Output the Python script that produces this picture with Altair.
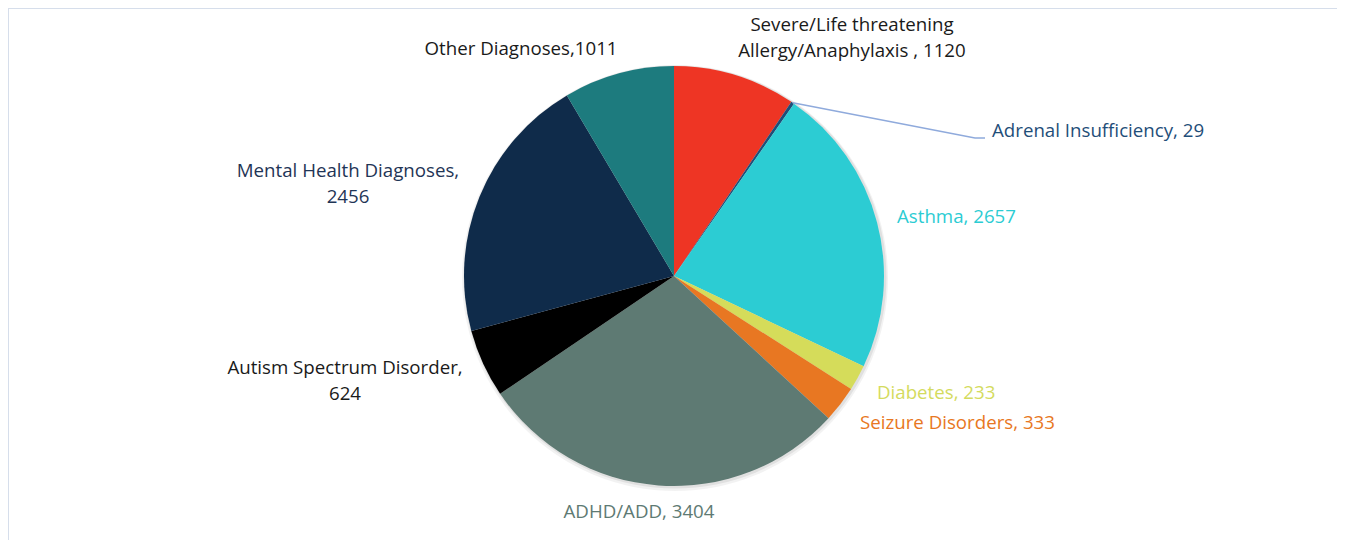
import math
import pandas as pd
import altair as alt

# ---- data ----
categories = [
    "Severe/Life threatening Allergy/Anaphylaxis",
    "Adrenal Insufficiency",
    "Asthma",
    "Diabetes",
    "Seizure Disorders",
    "ADHD/ADD",
    "Autism Spectrum Disorder",
    "Mental Health Diagnoses",
    "Other Diagnoses",
]
values = [1120, 29, 2657, 233, 333, 3404, 624, 2456, 1011]
slice_colors = ["#EE3524", "#1F4E79", "#2CCCD3", "#D5DC5A", "#E87722",
                "#5E7A73", "#000000", "#0F2B4A", "#1D7B7E"]
label_texts = [
    "Severe/Life threatening\nAllergy/Anaphylaxis , 1120",
    "Adrenal Insufficiency, 29",
    "Asthma, 2657",
    "Diabetes, 233",
    "Seizure Disorders, 333",
    "ADHD/ADD, 3404",
    "Autism Spectrum Disorder,\n624",
    "Mental Health Diagnoses,\n2456",
    "Other Diagnoses,1011",
]
label_colors = ["#1A1A1A", "#1F4E79", "#2CCCD3", "#D4DB5E", "#E87722",
                "#5E7A73", "#1A1A1A", "#1F3556", "#1A1A1A"]

# ---- layout (annotation positions, pixels; y = first line) ----
W, H = 1329, 532
CX, CY, R = 666, 268, 210
label_align = ["center", "left", "left", "left", "left",
               "center", "center", "center", "center"]
label_x = [844, 984, 889, 869, 852, 631, 337, 340, 513]
label_y = [17, 123, 209, 385, 415, 504, 360, 163, 41]

df = pd.DataFrame({"category": categories, "value": values,
                   "order": list(range(len(values)))})

lab = pd.DataFrame({"text": label_texts, "tc": label_colors,
                    "align": label_align, "x": label_x, "y": label_y})

# leader line for the tiny Adrenal slice, starting at its mid-angle edge
total = sum(values)
mid = (values[0] + values[1] / 2) / total * 2 * math.pi
sx = CX + R * math.sin(mid)
sy = CY - R * math.cos(mid)
leader = pd.DataFrame({"i": [0, 1, 2],
                       "x": [sx, 967, 977],
                       "y": [sy, 130, 130]})

shadow1 = alt.Chart(df.head(1)).mark_arc(
    theta=0, theta2=2 * math.pi, radius=R + 3, color="#000000", opacity=0.05
).encode(x=alt.value(CX + 1), y=alt.value(CY + 2))
shadow2 = alt.Chart(df.head(1)).mark_arc(
    theta=0, theta2=2 * math.pi, radius=R + 1.5, color="#000000", opacity=0.07
).encode(x=alt.value(CX + 1), y=alt.value(CY + 1))

pie = alt.Chart(df).mark_arc(radius=R).encode(
    theta=alt.Theta("value:Q", stack=True),
    color=alt.Color("category:N",
                    scale=alt.Scale(domain=categories, range=slice_colors),
                    legend=None),
    order=alt.Order("order:Q"),
    x=alt.value(CX),
    y=alt.value(CY),
)

line = alt.Chart(leader).mark_line(color="#8FAADC", strokeWidth=1.5).encode(
    x=alt.X("x:Q", scale=None),
    y=alt.Y("y:Q", scale=None),
    order="i:Q",
)

def text_layer(al):
    return alt.Chart(lab[lab["align"] == al]).mark_text(
        align=al, baseline="middle", font="Open Sans", fontSize=18.7,
        lineBreak="\n", lineHeight=26
    ).encode(
        x=alt.X("x:Q", scale=None),
        y=alt.Y("y:Q", scale=None),
        text="text:N",
        color=alt.Color("tc:N", scale=None),
    )

border_top = alt.Chart(df.head(1)).mark_rule(color="#D6DEEB", strokeWidth=2).encode(
    x=alt.value(0), x2=alt.value(W), y=alt.value(0))
border_left = alt.Chart(df.head(1)).mark_rule(color="#D6DEEB", strokeWidth=2).encode(
    x=alt.value(0), y=alt.value(0), y2=alt.value(H))

chart = alt.layer(
    border_top, border_left, shadow1, shadow2, pie, line,
    text_layer("center"), text_layer("left")
).resolve_scale(color="independent").properties(
    width=W, height=H, padding=0, autosize="none", background="white"
).configure_view(stroke=None)

chart.save("out.html", embed_options={"renderer": "svg", "actions": False})
